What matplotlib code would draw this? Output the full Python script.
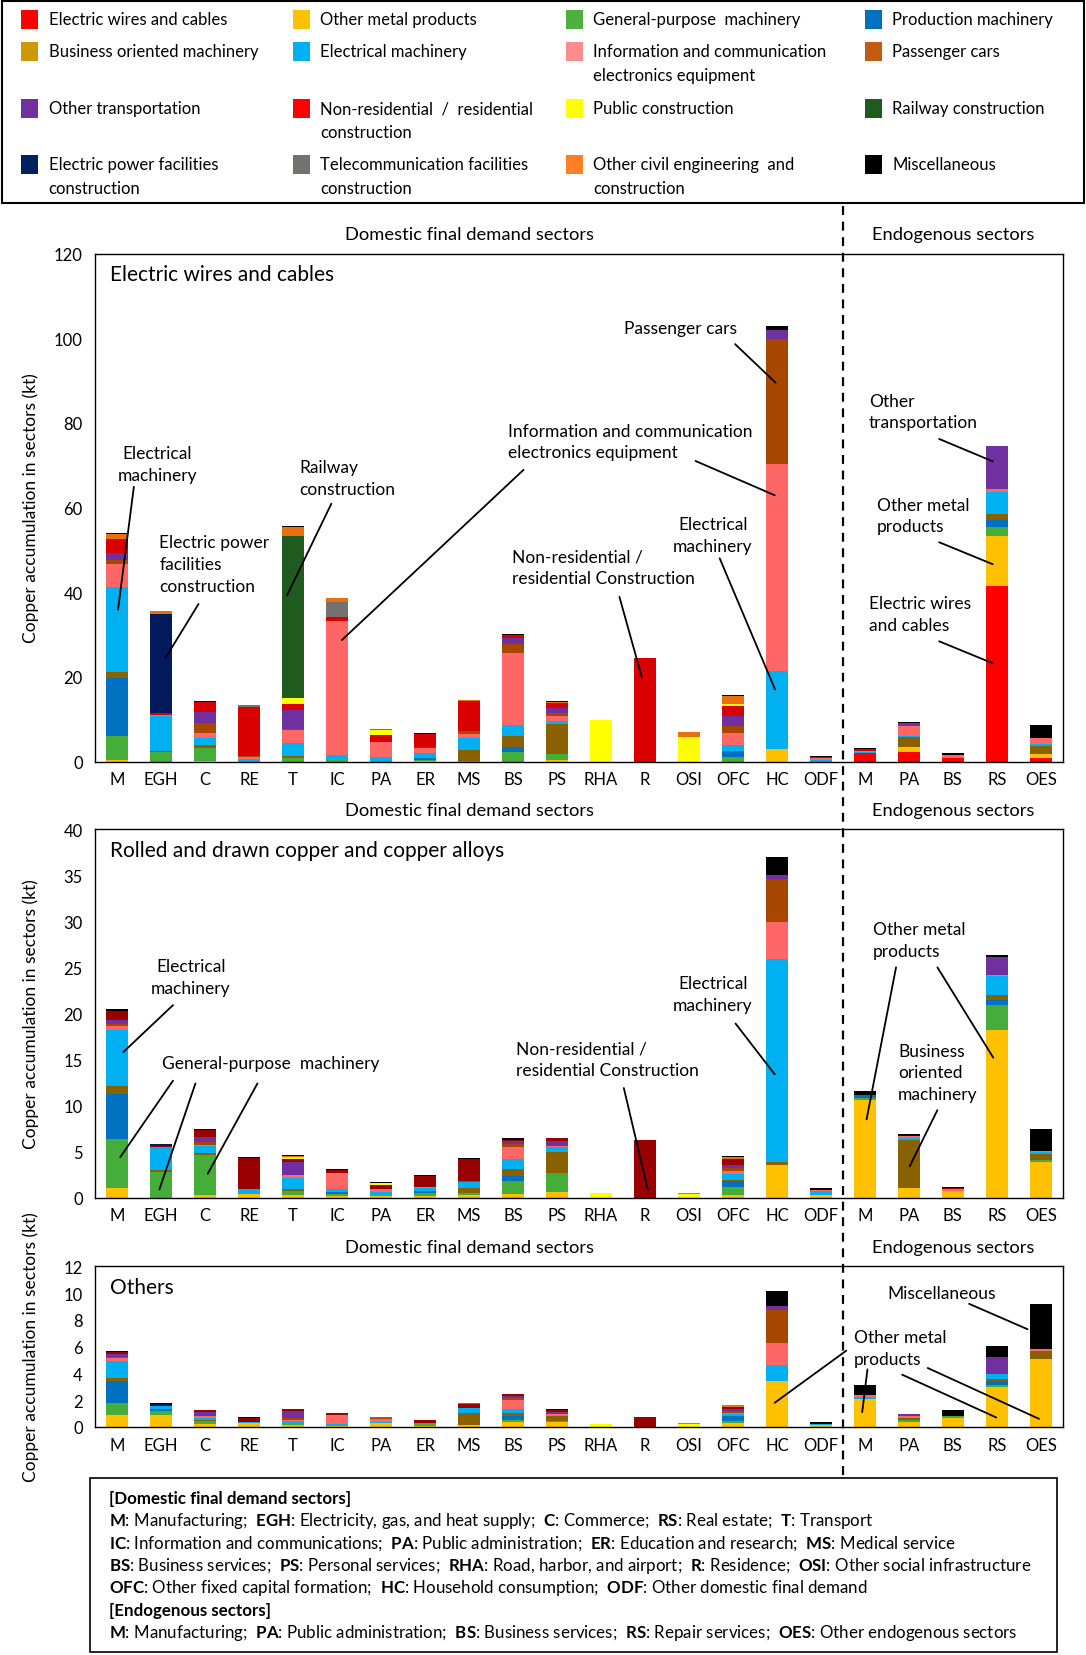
import matplotlib
matplotlib.use("Agg")
import matplotlib.pyplot as plt
import numpy as np
from matplotlib.patches import Rectangle
from matplotlib.lines import Line2D
from matplotlib.transforms import blended_transform_factory

plt.rcParams.update({
    "font.family": ["Lato", "DejaVu Sans"], "font.size": 12,
    "mathtext.fontset": "custom", "mathtext.rm": "Lato", "mathtext.bf": "Lato:bold",
    "axes.linewidth": 1.0,
})

# --- categories ----------------------------------------------------------
SECTORS = ["M", "EGH", "C", "RE", "T", "IC", "PA", "ER", "MS", "BS", "PS", "RHA", "R",
           "OSI", "OFC", "HC", "ODF", "M", "PA", "BS", "RS", "OES"]

SERIES = ["Electric wires and cables", "Other metal products", "General-purpose  machinery",
          "Production machinery", "Business oriented machinery", "Electrical machinery",
          "Information and communication\nelectronics equipment", "Passenger cars",
          "Other transportation", "Non-residential  /  residential\nconstruction",
          "Public construction", "Railway construction",
          "Electric power facilities\nconstruction", "Telecommunication facilities\nconstruction",
          "Other civil engineering  and\nconstruction", "Miscellaneous"]
BAR_COLORS = ["#FF0000", "#FFC000", "#45AE3A", "#0070C0", "#8A6100", "#00B0F0", "#FF6666",
              "#A84800", "#7030A0", "#D80000", "#FFFF00", "#1F5A1E", "#001A5C", "#767171",
              "#E8700F", "#000000"]
LEGEND_COLORS = ["#FF0000", "#FFC000", "#4EB040", "#0070C0", "#CC9900", "#00B0F0", "#FF8C8C",
                 "#C55A11", "#7030A0", "#FF0000", "#FFFF00", "#1F5A1E", "#002060", "#767171",
                 "#FF7F27", "#000000"]
NONRES_DARK = "#990000"   # darker shade used in the two lower panels

# --- panel 1: electric wires and cables (kt) -----------------------------
WC_WIRES = [0, 0, 0, 0, 0, 0, 0, 0, 0, 0, 0, 0, 0, 0, 0, 0, 0, 1.9, 2.2, 0.8, 41.4, 0.8]
WC_METAL = [0.3, 0, 0.2, 0, 0, 0, 0, 0.2, 0, 0, 0.4, 0, 0, 0, 0, 2.9, 0, 0, 1.2, 0, 11.9, 1.0]
WC_GP = [5.8, 2.3, 3.1, 0, 0.8, 0.4, 0, 0.2, 0.2, 2.3, 1.4, 0, 0, 0, 1.0, 0, 0, 0, 0, 0, 2.0, 0]
WC_PROD = [13.7, 0.3, 0, 0, 0, 0, 0, 0.4, 0, 1.2, 0, 0, 0, 0, 1.2, 0, 0, 0, 0, 0, 1.7, 0]
WC_BIZ = [1.4, 0, 0.5, 0, 0.4, 0, 0, 0, 2.5, 2.5, 7.1, 0, 0, 0, 0.3, 0, 0, 0, 2.3, 0, 1.4, 1.9]
WC_ELEC = [20.0, 8.1, 1.7, 0.5, 3.1, 1.2, 1.1, 1.2, 2.9, 2.6, 0.7, 0, 0, 0, 1.5, 18.6, 0.3,
           0.3, 0.4, 0, 5.3, 0.4]
WC_ICT = [5.4, 0.4, 1.3, 0.6, 3.1, 31.7, 3.5, 1.2, 1.0, 17.1, 1.1, 0, 0, 0, 2.7, 48.7, 0.5,
          0.4, 2.2, 0.8, 0.7, 1.4]
WC_CARS = [1.1, 0, 2.2, 0.3, 0.4, 0, 0, 0, 0.6, 2.0, 0.8, 0, 0, 0, 1.8, 29.5, 0, 0, 0, 0, 0, 0]
WC_TRANS = [1.5, 0, 2.6, 0, 4.4, 0, 0, 0.3, 0, 1.4, 1.1, 0, 0, 0, 2.3, 2.2, 0, 0, 0.7, 0, 10.1, 0]
WC_NONRES = [3.3, 0.4, 2.5, 11.5, 1.3, 0.8, 1.6, 3.1, 7.0, 0.9, 1.2, 0, 24.4, 0, 2.3, 0, 0.2,
             0.3, 0, 0, 0, 0]
WC_PUBLIC = [0, 0, 0, 0, 1.5, 0, 1.2, 0, 0, 0, 0, 9.7, 0, 5.8, 0.4, 0, 0, 0, 0, 0, 0, 0]
WC_RAIL = [0, 0, 0, 0, 38.2, 0, 0, 0, 0, 0, 0, 0, 0, 0, 0, 0, 0, 0, 0, 0, 0, 0]
WC_POWER = [0, 23.4, 0, 0, 0, 0, 0, 0, 0, 0, 0, 0, 0, 0, 0, 0, 0, 0, 0, 0, 0, 0]
WC_TELECOM = [0, 0, 0, 0.4, 0, 3.6, 0.3, 0, 0, 0, 0, 0, 0, 0, 0, 0, 0, 0, 0, 0, 0, 0]
WC_CIVIL = [1.2, 0.6, 0, 0, 2.2, 1.0, 0, 0, 0.3, 0, 0.3, 0, 0, 1.1, 2.0, 0, 0, 0, 0, 0, 0, 0]
WC_MISC = [0.2, 0, 0.2, 0, 0.3, 0, 0, 0.25, 0, 0.2, 0.2, 0, 0, 0, 0.3, 1.0, 0.2,
           0.4, 0.25, 0.4, 0, 3.1]

# --- panel 2: rolled and drawn copper and copper alloys (kt) -------------
RD_WIRES = [0] * 22
RD_METAL = [1.05, 0, 0.3, 0.35, 0.25, 0.15, 0.2, 0.15, 0.25, 0.45, 0.6, 0, 0, 0, 0.3, 3.6, 0.25,
            10.6, 1.05, 0.7, 18.2, 3.9]
RD_GP = [5.3, 2.8, 4.3, 0, 0.5, 0.3, 0, 0.35, 0.25, 1.35, 2.05, 0, 0, 0, 0.85, 0, 0,
         0.2, 0, 0, 2.7, 0.2]
RD_PROD = [4.9, 0, 0, 0, 0, 0.15, 0, 0.2, 0, 0.6, 0, 0, 0, 0, 0.65, 0, 0, 0.3, 0, 0, 0.6, 0]
RD_BIZ = [0.9, 0.25, 0.3, 0, 0.2, 0, 0, 0, 0.5, 0.7, 2.35, 0, 0, 0, 0.15, 0.25, 0,
          0, 5.2, 0, 0.45, 0.6]
RD_ELEC = [6.0, 2.4, 0.75, 0.6, 1.2, 0.3, 0.4, 0.3, 0.65, 1.1, 0.45, 0, 0, 0, 0.65, 22.0, 0.45,
           0, 0.2, 0, 2.1, 0.25]
RD_ICT = [0.5, 0.1, 0.1, 0, 0.3, 1.8, 0.3, 0.2, 0, 1.3, 0.2, 0, 0, 0, 0.25, 4.1, 0.15,
          0, 0.25, 0.2, 0.1, 0.1]
RD_CARS = [0.2, 0, 0.25, 0, 0, 0, 0, 0, 0.2, 0.3, 0, 0, 0, 0, 0.35, 4.6, 0, 0, 0, 0, 0, 0]
RD_TRANS = [0.4, 0, 0.6, 0, 1.45, 0, 0, 0, 0, 0.3, 0.45, 0, 0, 0, 0.35, 0.45, 0, 0, 0, 0, 1.95, 0]
RD_NONRES = [1.0, 0.1, 0.8, 3.4, 0.35, 0.3, 0.45, 1.2, 2.3, 0.2, 0.35, 0, 6.3, 0, 0.65, 0, 0,
             0, 0, 0.15, 0, 0]
RD_PUBLIC = [0, 0, 0, 0, 0.15, 0, 0.2, 0, 0, 0, 0, 0.55, 0, 0.4, 0, 0, 0, 0, 0, 0, 0, 0]
RD_RAIL = [0] * 22
RD_POWER = [0, 0.2, 0, 0, 0, 0, 0, 0, 0, 0, 0, 0, 0, 0, 0, 0, 0, 0, 0, 0, 0, 0]
RD_TELECOM = [0] * 22
RD_CIVIL = [0, 0, 0, 0, 0.15, 0, 0, 0, 0, 0, 0, 0, 0, 0.1, 0.2, 0, 0, 0, 0, 0, 0, 0]
RD_MISC = [0.2, 0, 0.1, 0.1, 0.1, 0.1, 0.1, 0.07, 0.15, 0.2, 0, 0, 0, 0, 0.1, 1.95, 0.15,
           0.45, 0.2, 0.15, 0.2, 2.45]

# --- panel 3: others (kt) ------------------------------------------------
OT_WIRES = [0] * 22
OT_METAL = [0.9, 0.9, 0.25, 0.3, 0.15, 0.1, 0.3, 0.1, 0.15, 0.4, 0.35, 0, 0, 0, 0.3, 3.45, 0.15,
            2.1, 0.4, 0.7, 2.95, 5.1]
OT_GP = [0.9, 0.3, 0.2, 0, 0.1, 0, 0, 0.1, 0, 0.1, 0.1, 0, 0, 0, 0.15, 0, 0, 0, 0.15, 0.1, 0.2, 0]
OT_PROD = [1.6, 0.1, 0, 0, 0, 0, 0, 0, 0, 0.35, 0, 0, 0, 0, 0.35, 0, 0, 0, 0, 0, 0.3, 0]
OT_BIZ = [0.25, 0, 0.1, 0, 0, 0, 0, 0, 0.9, 0.2, 0.4, 0, 0, 0, 0, 0, 0, 0, 0.15, 0, 0.1, 0.6]
OT_ELEC = [1.25, 0.25, 0.15, 0.1, 0.2, 0.1, 0.1, 0.1, 0.35, 0.25, 0, 0, 0, 0, 0.15, 1.2, 0.1,
           0.15, 0, 0, 0.4, 0]
OT_ICT = [0.25, 0, 0.08, 0, 0.1, 0.7, 0.2, 0, 0, 0.7, 0.1, 0, 0, 0, 0.1, 1.65, 0,
          0.1, 0.1, 0, 0, 0.1]
OT_CARS = [0.1, 0, 0, 0, 0.15, 0, 0.05, 0, 0, 0.15, 0, 0, 0, 0, 0.1, 2.45, 0, 0, 0, 0, 0, 0]
OT_TRANS = [0.2, 0, 0.3, 0, 0.5, 0, 0, 0, 0, 0.15, 0.15, 0, 0, 0, 0.2, 0.25, 0, 0, 0.15, 0, 1.3, 0]
OT_NONRES = [0.15, 0, 0.15, 0.3, 0.1, 0.12, 0, 0.2, 0.3, 0.15, 0.15, 0, 0.75, 0, 0.15, 0, 0,
             0, 0, 0, 0, 0]
OT_PUBLIC = [0, 0, 0, 0, 0, 0, 0, 0, 0, 0, 0, 0.2, 0, 0.22, 0, 0, 0, 0, 0, 0, 0, 0]
OT_RAIL = [0] * 22
OT_POWER = [0, 0.15, 0, 0, 0, 0, 0, 0, 0, 0, 0, 0, 0, 0, 0, 0, 0, 0, 0, 0, 0, 0]
OT_TELECOM = [0, 0, 0, 0, 0, 0, 0.1, 0, 0.1, 0, 0, 0, 0, 0, 0, 0, 0, 0, 0, 0, 0, 0]
OT_CIVIL = [0, 0, 0, 0, 0.05, 0, 0, 0, 0, 0, 0, 0, 0, 0.08, 0.1, 0, 0, 0, 0, 0, 0, 0]
OT_MISC = [0.05, 0.05, 0, 0.07, 0, 0, 0, 0.05, 0, 0, 0.05, 0, 0, 0, 0, 1.15, 0.1,
           0.8, 0.05, 0.45, 0.8, 3.35]

# (title, stacks bottom->top, y max, y step, nonres colour)
PANELS = [
    ("Electric wires and cables",
     [WC_WIRES, WC_METAL, WC_GP, WC_PROD, WC_BIZ, WC_ELEC, WC_ICT, WC_CARS, WC_TRANS,
      WC_NONRES, WC_PUBLIC, WC_RAIL, WC_POWER, WC_TELECOM, WC_CIVIL, WC_MISC],
     120, 20, BAR_COLORS[9]),
    ("Rolled and drawn copper and copper alloys",
     [RD_WIRES, RD_METAL, RD_GP, RD_PROD, RD_BIZ, RD_ELEC, RD_ICT, RD_CARS, RD_TRANS,
      RD_NONRES, RD_PUBLIC, RD_RAIL, RD_POWER, RD_TELECOM, RD_CIVIL, RD_MISC],
     40, 5, NONRES_DARK),
    ("Others",
     [OT_WIRES, OT_METAL, OT_GP, OT_PROD, OT_BIZ, OT_ELEC, OT_ICT, OT_CARS, OT_TRANS,
      OT_NONRES, OT_PUBLIC, OT_RAIL, OT_POWER, OT_TELECOM, OT_CIVIL, OT_MISC],
     12, 2, NONRES_DARK),
]

# callouts: (text, text anchor, ha, [(line start, line end), ...]) in data units
CALLOUTS = [
    [("Electrical\nmachinery", (0.91, 70.2), "center", [((0.38, 64.9), (0.02, 35.9))]),
     ("Electric power\nfacilities\nconstruction", (0.96, 46.7), "left", [((1.85, 37.2), (1.10, 24.5))]),
     ("Railway\nconstruction", (4.15, 67.0), "left", [((4.87, 60.9), (3.86, 39.2))]),
     ("Information and communication\nelectronics equipment", (8.88, 75.6), "left",
      [((9.24, 68.9), (5.11, 28.7)), ((13.15, 71.0), (14.95, 62.9))]),
     ("Passenger cars", (11.52, 102.3), "left", [((14.05, 98.6), (14.97, 89.5))]),
     ("Non-residential /\nresidential Construction", (8.98, 45.9), "left", [((11.42, 38.9), (11.93, 19.9))]),
     ("Electrical\nmachinery", (13.54, 53.6), "center", [((13.70, 48.0), (14.96, 17.0))]),
     ("Other\ntransportation", (17.09, 82.7), "left", [((18.69, 76.2), (19.91, 70.9))]),
     ("Other metal\nproducts", (17.28, 58.1), "left", [((18.69, 51.8), (19.91, 46.6))]),
     ("Electric wires\nand cables", (17.09, 34.9), "left", [((18.69, 28.4), (19.91, 23.2))])],
    [("Electrical\nmachinery", (1.68, 23.95), "center", [((1.27, 20.9), (0.14, 15.8))]),
     ("General-purpose  machinery", (1.03, 14.6), "left",
      [((1.27, 12.7), (0.07, 4.4)), ((1.78, 12.4), (0.96, 0.9)), ((3.19, 12.4), (2.06, 2.6))]),
     ("Non-residential /\nresidential Construction", (9.07, 15.0), "left", [((11.52, 11.9), (12.07, 0.8))]),
     ("Electrical\nmachinery", (13.54, 22.1), "center", [((14.06, 18.9), (14.95, 13.4))]),
     ("Other metal\nproducts", (17.18, 28.0), "left",
      [((17.71, 25.0), (17.04, 8.5)), ((18.65, 25.0), (19.92, 15.2))]),
     ("Business\noriented\nmachinery", (17.76, 13.6), "left", [((18.65, 9.5), (18.02, 3.4))])],
    [("Miscellaneous", (17.52, 10.0), "left", [((19.37, 9.2), (20.70, 7.3))]),
     ("Other metal\nproducts", (16.75, 5.9), "left",
      [((16.58, 5.7), (14.95, 1.8)), ((17.06, 4.3), (16.94, 1.1)),
       ((17.85, 3.9), (19.99, 0.7)), ((18.43, 4.4), (20.96, 0.6))])],
]

DOMESTIC_NOTES = [
    [("M", "Manufacturing"), ("EGH", "Electricity, gas, and heat supply"), ("C", "Commerce"),
     ("RS", "Real estate"), ("T", "Transport")],
    [("IC", "Information and communications"), ("PA", "Public administration"),
     ("ER", "Education and research"), ("MS", "Medical service")],
    [("BS", "Business services"), ("PS", "Personal services"), ("RHA", "Road, harbor, and airport"),
     ("R", "Residence"), ("OSI", "Other social infrastructure")],
    [("OFC", "Other fixed capital formation"), ("HC", "Household consumption"),
     ("ODF", "Other domestic final demand")],
]
ENDOGENOUS_NOTES = [[("M", "Manufacturing"), ("PA", "Public administration"), ("BS", "Business services"),
                     ("RS", "Repair services"), ("OES", "Other endogenous sectors")]]

# --- layout (figure fractions) -------------------------------------------
PW, PH = 1027.0, 1568.0
def fx(px): return px / PW
def fy(py): return 1 - py / PH

AX_BOXES = [(fx(90), fy(722), fx(915), 481 / PH),
            (fx(90), fy(1135), fx(915), 349 / PH),
            (fx(90), fy(1352), fx(915), 152 / PH)]

fig = plt.figure(figsize=(10.86, 16.56), dpi=100)
x = np.arange(len(SECTORS))
axes = []
for (title, stacks, ymax, ystep, nonres_col), box, callouts in zip(PANELS, AX_BOXES, CALLOUTS):
    ax = fig.add_axes(box)
    axes.append(ax)
    bottom = np.zeros(len(SECTORS))
    for i, (vals, col) in enumerate(zip(stacks, BAR_COLORS)):
        if i == 9:
            col = nonres_col
        vals = np.asarray(vals, dtype=float)
        ax.bar(x, vals, 0.5, bottom=bottom, color=col, linewidth=0)
        bottom += vals
    ax.set_xlim(-0.5, len(SECTORS) - 0.5)
    ax.set_ylim(0, ymax)
    ax.set_yticks(np.arange(0, ymax + ystep / 2, ystep))
    ax.set_xticks(x)
    ax.set_xticklabels(SECTORS, fontsize=12)
    ax.tick_params(axis="both", length=0, labelsize=12)
    ax.tick_params(axis="x", pad=7)
    ax.tick_params(axis="y", pad=9)
    ax.set_ylabel("Copper accumulation in sectors (kt)", fontsize=12.5)
    ax.yaxis.set_label_coords(-0.058, 0.5)
    ax.annotate(title, xy=(0.0153, 1), xycoords="axes fraction", xytext=(0, -15),
                textcoords="offset points", ha="left", va="center", fontsize=15)
    top = blended_transform_factory(ax.transData, ax.transAxes)
    for label, xc in (("Domestic final demand sectors", 8), ("Endogenous sectors", 19)):
        ax.annotate(label, xy=(xc, 1), xycoords=top, xytext=(0, 14), textcoords="offset points",
                    ha="center", va="center", fontsize=13.2)
    for text, pos, ha, lines in callouts:
        ax.text(pos[0], pos[1], text, ha=ha, va="center", fontsize=12.5, linespacing=1.45)
        for start, end in lines:
            ax.annotate("", xy=end, xytext=start,
                        arrowprops=dict(arrowstyle="-", color="black", lw=1.3,
                                        shrinkA=0, shrinkB=0))

# dashed divider between domestic and endogenous sectors
x_div = fig.transFigure.inverted().transform(axes[0].transData.transform((16.5, 0)))[0]
fig.add_artist(Line2D([x_div, x_div], [fy(1398), fy(195)], transform=fig.transFigure,
                      color="black", lw=1.6, ls=(0, (4, 3))))

# legend box
fig.add_artist(Rectangle((fx(2), fy(193)), fx(1023), 191 / PH, transform=fig.transFigure,
                         fill=False, ec="black", lw=1.5))
col_x = [20, 277, 535, 818]
row_y = [19, 50, 104, 157]
for i, (name, col) in enumerate(zip(SERIES, LEGEND_COLORS)):
    r, c = divmod(i, 4)
    fig.add_artist(Rectangle((fx(col_x[c]), fy(row_y[r] + 9)), fx(16), 18 / PH,
                             transform=fig.transFigure, fc=col, ec="none"))
    fig.text(fx(col_x[c] + 26), fy(row_y[r] - 8), name, ha="left", va="top",
             fontsize=12, linespacing=1.6)

# abbreviation box
fig.add_artist(Rectangle((fx(85), fy(1565)), fx(915), 165 / PH, transform=fig.transFigure,
                         fill=False, ec="black", lw=1.2))


def note_line(pairs):
    return ";  ".join(f"$\\mathbf{{{a}}}$: {d}" for a, d in pairs)


lines = [("[Domestic final demand sectors]", True)]
lines += [(note_line(p), False) for p in DOMESTIC_NOTES]
lines += [("[Endogenous sectors]", True)]
lines += [(note_line(p), False) for p in ENDOGENOUS_NOTES]
for k, (txt, bold) in enumerate(lines):
    fig.text(fx(103), fy(1419 + 21.2 * k), txt, ha="left", va="center", fontsize=12.2,
             fontweight="bold" if bold else "normal")

fig.savefig("out.png", dpi=100)
